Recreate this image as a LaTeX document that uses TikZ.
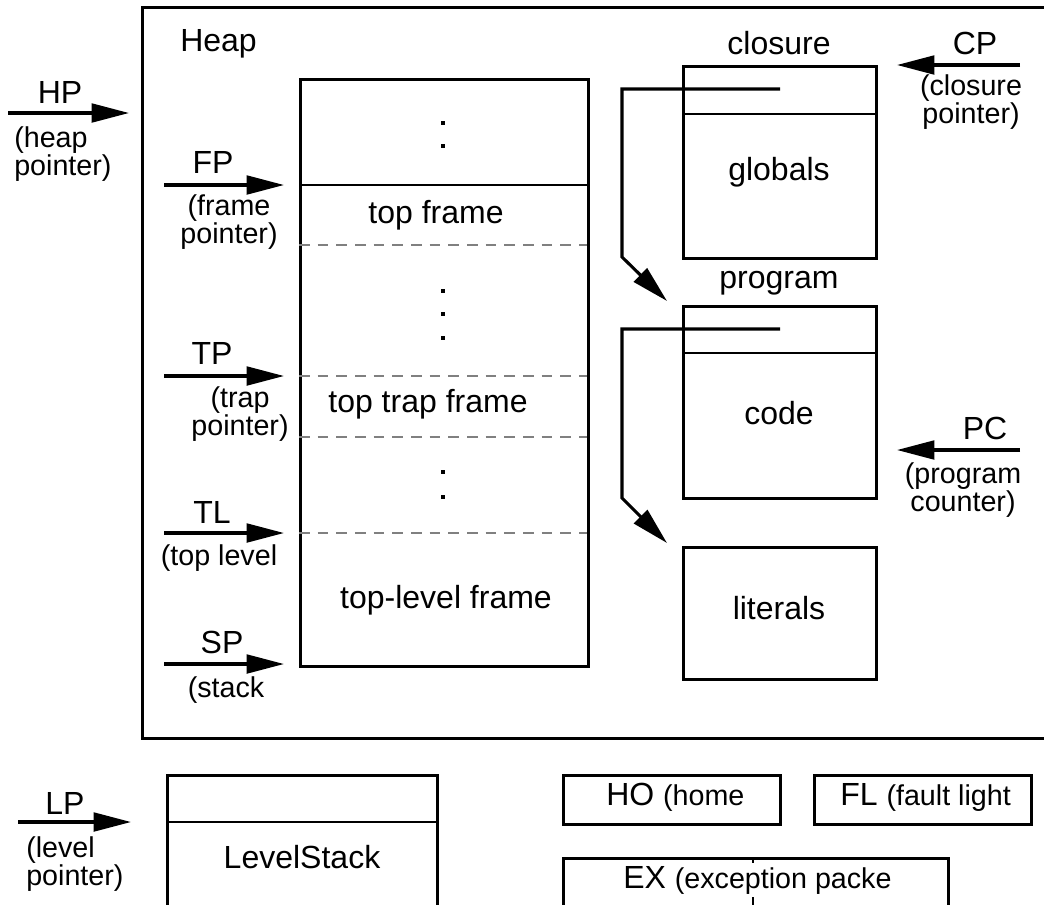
\documentclass[tikz,border=0pt]{standalone}
\usepackage{fontspec}
\setmainfont{Liberation Sans}
\usetikzlibrary{arrows.meta}

\begin{document}
\begin{tikzpicture}[x=0.75pt,y=-0.75pt,
  ptr/.style={-{Triangle[length=28pt,width=14pt]},line width=2.3pt},
  box/.style={draw,line width=2.1pt,inner sep=0pt,anchor=north west},
  size/.style 2 args={minimum width=#1*0.75pt,minimum height=#2*0.75pt},
  rule/.style={line width=2.1pt},
  frame line/.style={draw=gray,line width=1.6pt,dash pattern=on 8pt off 6pt},
  big/.style={font=\fontsize{24}{27}\selectfont,inner sep=0pt},
  small/.style={font=\fontsize{21.5}{21}\selectfont,align=center,inner sep=0pt},
  dot/.style={fill,minimum size=3.5pt,inner sep=0pt}]
  \useasboundingbox (0,0) rectangle (1044,904);

  % boxes
  \node[box,size={912}{731}] (heap) at (141,6) {};
  \node[box,size={288}{587}] (stack) at (299,78) {};
  \node[box,size={193}{192}] (closure) at (682,65) {};
  \node[box,size={193}{192}] (program) at (682,305) {};
  \node[box,size={193}{132}] (literals) at (682,546) {};
  \node[box,size={270}{150}] (levels) at (166,774) {};
  \node[box,size={217}{49}] (home) at (562,774) {};
  \node[box,size={217}{49}] (fault) at (813,774) {};
  \node[box,size={385}{60}] (exc) at (562,857) {};

  % inner lines
  \draw[rule] (299,185) -- (587,185);
  \draw[rule] (682,114) -- (875,114);
  \draw[rule] (682,353) -- (875,353);
  \draw[rule] (166,822) -- (436,822);
  \draw[rule] (753,857) -- (753,910);
  \draw[frame line] (299,245) -- (587,245);
  \draw[frame line] (299,376) -- (587,376);
  \draw[frame line] (299,437) -- (587,437);
  \draw[frame line] (299,533) -- (587,533);

  % dots in the stack
  \node[dot] (d1) at (443,123) {};
  \node[dot] (d2) at (443,146) {};
  \node[dot] (d3) at (443,291) {};
  \node[dot] (d4) at (443,314) {};
  \node[dot] (d5) at (443,338) {};
  \node[dot] (d6) at (443,472) {};
  \node[dot] (d7) at (443,497) {};

  % texts
  \node[big,anchor=west] (heaplbl) at (180,44) {Heap};
  \node[big] (topframe) at (436,215) {top frame};
  \node[big] (trapframe) at (428,404) {top trap frame};
  \node[big] (levelframe) at (446,600) {top-level frame};
  \node[big] (closurelbl) at (779,43) {closure};
  \node[big] (globals) at (779,172) {globals};
  \node[big] (programlbl) at (779,283) {program};
  \node[big] (code) at (779,413) {code};
  \node[big] (literalslbl) at (779,608) {literals};
  \node[big] (levelstack) at (302,857) {LevelStack};
  \node[big,anchor=west] (homelbl) at (606,797) {HO \fontsize{21.5}{21}\selectfont(home};
  \node[big,anchor=west] (faultlbl) at (840,797) {FL \fontsize{21.5}{21}\selectfont(fault light};
  \node[big,anchor=west,fill=white,inner ysep=2pt] (exclbl) at (623,880) {EX \fontsize{21.5}{21}\selectfont(exception packe};

  % registers
  \node[big] (hp) at (60,92) {HP};
  \node[small,align=left,anchor=west] (hpnote) at (14,154) {(heap\\pointer)};
  \node[big] (fp) at (213,162) {FP};
  \node[small] (fpnote) at (229,222) {(frame\\pointer)};
  \node[big] (tp) at (212,353) {TP};
  \node[small] (tpnote) at (240,414) {(trap\\pointer)};
  \node[big] (tl) at (212,512) {TL};
  \node[small] (tlnote) at (219,558) {(top level};
  \node[big] (sp) at (222,642) {SP};
  \node[small] (spnote) at (226,690) {(stack};
  \node[big] (cp) at (975,43) {CP};
  \node[small] (cpnote) at (971,102) {(closure\\pointer)};
  \node[big] (pc) at (985,428) {PC};
  \node[small] (pcnote) at (963,490) {(program\\counter)};
  \node[big] (lp) at (65,803) {LP};
  \node[small,align=left,anchor=west] (lpnote) at (26,864) {(level\\pointer)};

  \coordinate (hp-s) at (8,113);   \coordinate (hp-e) at (129,113);
  \coordinate (fp-s) at (164,185); \coordinate (fp-e) at (284,185);
  \coordinate (tp-s) at (164,376); \coordinate (tp-e) at (284,376);
  \coordinate (tl-s) at (164,533); \coordinate (tl-e) at (284,533);
  \coordinate (sp-s) at (164,664); \coordinate (sp-e) at (284,664);
  \coordinate (cp-s) at (1020,65); \coordinate (cp-e) at (897,65);
  \coordinate (pc-s) at (1020,450); \coordinate (pc-e) at (897,450);
  \coordinate (lp-s) at (18,822);  \coordinate (lp-e) at (131,822);
  \draw[ptr] (hp-s) -- (hp-e);
  \draw[ptr] (fp-s) -- (fp-e);
  \draw[ptr] (tp-s) -- (tp-e);
  \draw[ptr] (tl-s) -- (tl-e);
  \draw[ptr] (sp-s) -- (sp-e);
  \draw[ptr] (cp-s) -- (cp-e);
  \draw[ptr] (pc-s) -- (pc-e);
  \draw[ptr] (lp-s) -- (lp-e);

  % code and literal pointers
  \coordinate (cl-ptr) at (780,89);
  \coordinate (pg-tip) at (667,301);
  \coordinate (pg-ptr) at (780,329);
  \coordinate (lit-tip) at (667,543);
  \draw[ptr,line join=miter] (cl-ptr) -- (622,89) -- (622,257) -- (pg-tip);
  \draw[ptr,line join=miter] (pg-ptr) -- (622,329) -- (622,498) -- (lit-tip);
\end{tikzpicture}
\end{document}
